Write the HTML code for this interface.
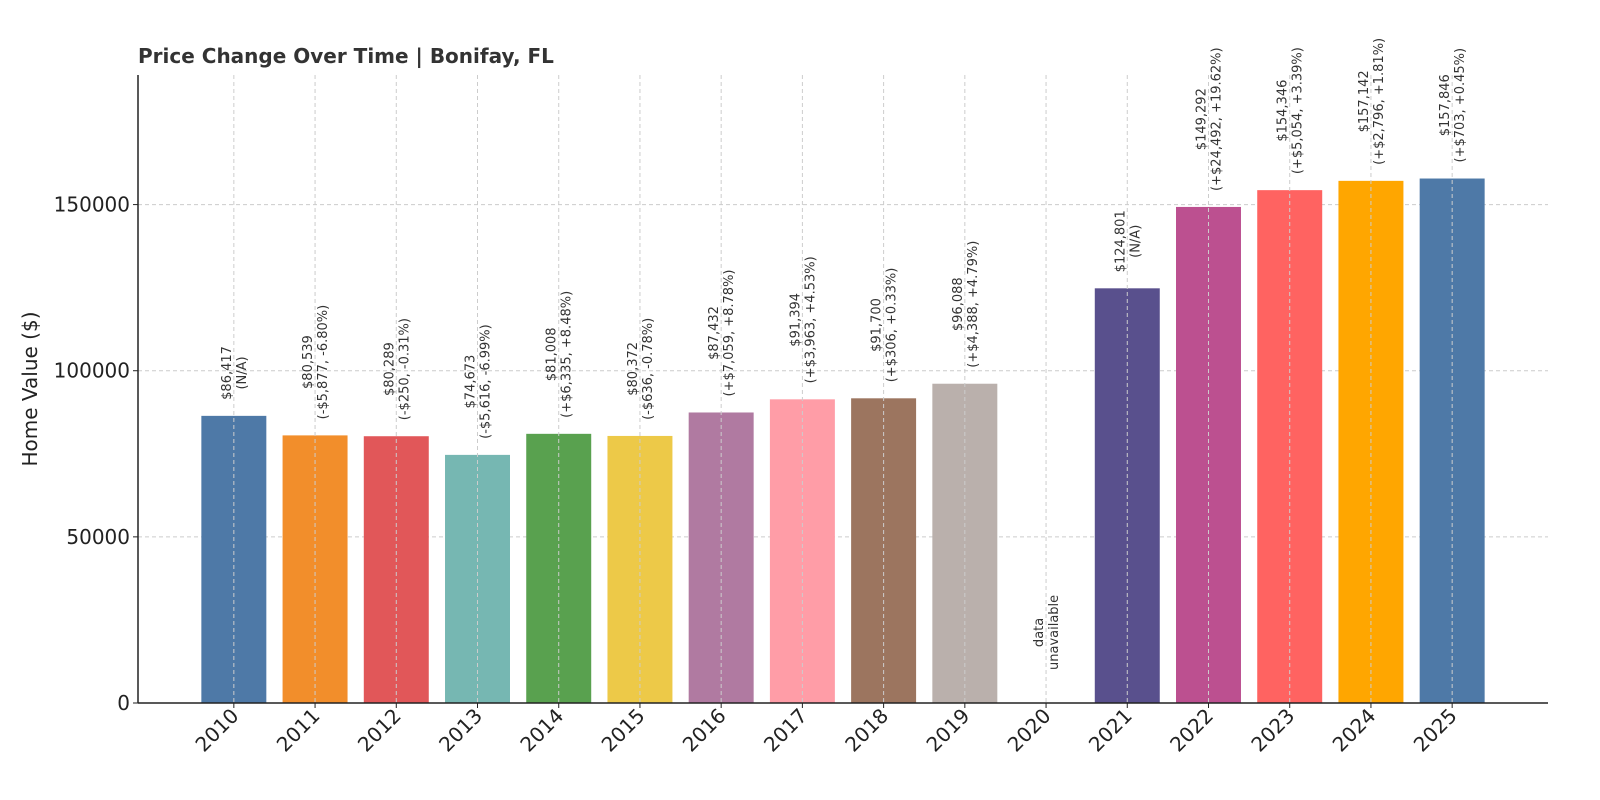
<!DOCTYPE html>
<html><head><meta charset="utf-8"><style>
html,body{margin:0;padding:0;background:#fff;}
svg{display:block;font-family:"DejaVu Sans","Liberation Sans",sans-serif;}
</style></head><body>
<svg id="chart" width="1600" height="800" viewBox="0 0 1600 800">
<text x="138" y="63" font-size="20" font-weight="bold" fill="#333">Price Change Over Time | Bonifay, FL</text>
<text transform="translate(37,389) rotate(-90)" text-anchor="middle" font-size="20" fill="#222">Home Value ($)</text>
<g id="grid"></g><g id="bars"></g><g id="vgrid"></g><g id="labels"></g><g id="axes"></g>
</svg>
<script>
const years=["2010","2011","2012","2013","2014","2015","2016","2017","2018","2019","2020","2021","2022","2023","2024","2025"];
const values=[86417,80539,80289,74673,81008,80372,87432,91394,91700,96088,null,124801,149292,154346,157142,157846];
const changes=["(N/A)","(-$5,877, -6.80%)","(-$250, -0.31%)","(-$5,616, -6.99%)","(+$6,335, +8.48%)","(-$636, -0.78%)","(+$7,059, +8.78%)","(+$3,963, +4.53%)","(+$306, +0.33%)","(+$4,388, +4.79%)","","(N/A)","(+$24,492, +19.62%)","(+$5,054, +3.39%)","(+$2,796, +1.81%)","(+$703, +0.45%)"];
const colors=["#4e79a7","#f28e2b","#e15759","#76b7b2","#59a14f","#edc948","#b07aa1","#ff9da7","#9c755f","#bab0ac","#4e79a7","#59508d","#bc5090","#ff6361","#ffa600","#4e79a7"];
const yTicks=[0,50000,100000,150000];
const NS="http://www.w3.org/2000/svg";
const L=138,R=1548,T=75,B=703,yMax=189000;
const xmin=-1.18,xmax=16.18;
const xs=i=>L+(i-xmin)/(xmax-xmin)*(R-L);
const ys=v=>B-v/yMax*(B-T);
const bw=0.8*(R-L)/(xmax-xmin);
function mk(tag,attrs,parent){const e=document.createElementNS(NS,tag);for(const k in attrs)e.setAttribute(k,attrs[k]);parent.appendChild(e);return e;}
const grid=document.getElementById('grid'),bars=document.getElementById('bars'),vgrid=document.getElementById('vgrid'),labels=document.getElementById('labels'),axes=document.getElementById('axes');
yTicks.forEach(t=>{
  const y=ys(t);
  const g=mk('line',{x1:L,x2:R,y1:y,y2:y,stroke:'#ccc','stroke-dasharray':'4,3','stroke-width':1},grid);
  
  
  const tk=mk('line',{x1:L-5,x2:L,y1:y,y2:y,stroke:'#222'},axes);
  
  
  const tl=mk('text',{x:L-8,y:y+7,'text-anchor':'end','font-size':20,fill:'#222'},axes);
  tl.textContent=t;
  
  
});
years.forEach((yr,i)=>{
  const cx=xs(i);
  const v=values[i];
  if(v!==null){
    const r=mk('rect',{x:cx-bw/2,y:ys(v),width:bw,height:B-ys(v),fill:colors[i]},bars);
    
    
  }
  const g=mk('line',{x1:cx,x2:cx,y1:T,y2:B,stroke:'#ccc','stroke-dasharray':'4,3','stroke-width':1},vgrid);
  
  
  const tk=mk('line',{x1:cx,x2:cx,y1:B,y2:B+5,stroke:'#222'},axes);
  
  
  const xl=mk('text',{transform:`translate(${cx+6},${B+14}) rotate(-45)`,'text-anchor':'end','font-size':20,fill:'#222'},axes);
  xl.textContent=yr;
  
  
  let l1,l2,base;
  if(v===null){l1='data';l2='unavailable';base=B-33;}
  else{l1='$'+v.toLocaleString('en-US');l2=changes[i];base=ys(v)-16;}
  const gl=mk('g',{},labels);
  
  
  const t1=mk('text',{'font-size':13,fill:'#333','text-anchor':'middle'},gl);t1.textContent=l1;
  const t2=mk('text',{'font-size':13,fill:'#333','text-anchor':'middle'},gl);t2.textContent=l2;
  const w=Math.max(t1.getComputedTextLength(),t2.getComputedTextLength());
  const c=base-w/2;
  t1.setAttribute('transform',`translate(${cx-3},${c}) rotate(-90)`);
  t2.setAttribute('transform',`translate(${cx+12},${c}) rotate(-90)`);
});
const a1=mk('line',{x1:L,x2:L,y1:T,y2:B,stroke:'#222','stroke-width':1.5},axes);


const a2=mk('line',{x1:L,x2:R,y1:B,y2:B,stroke:'#222','stroke-width':1.5},axes);


</script>
</body></html>
